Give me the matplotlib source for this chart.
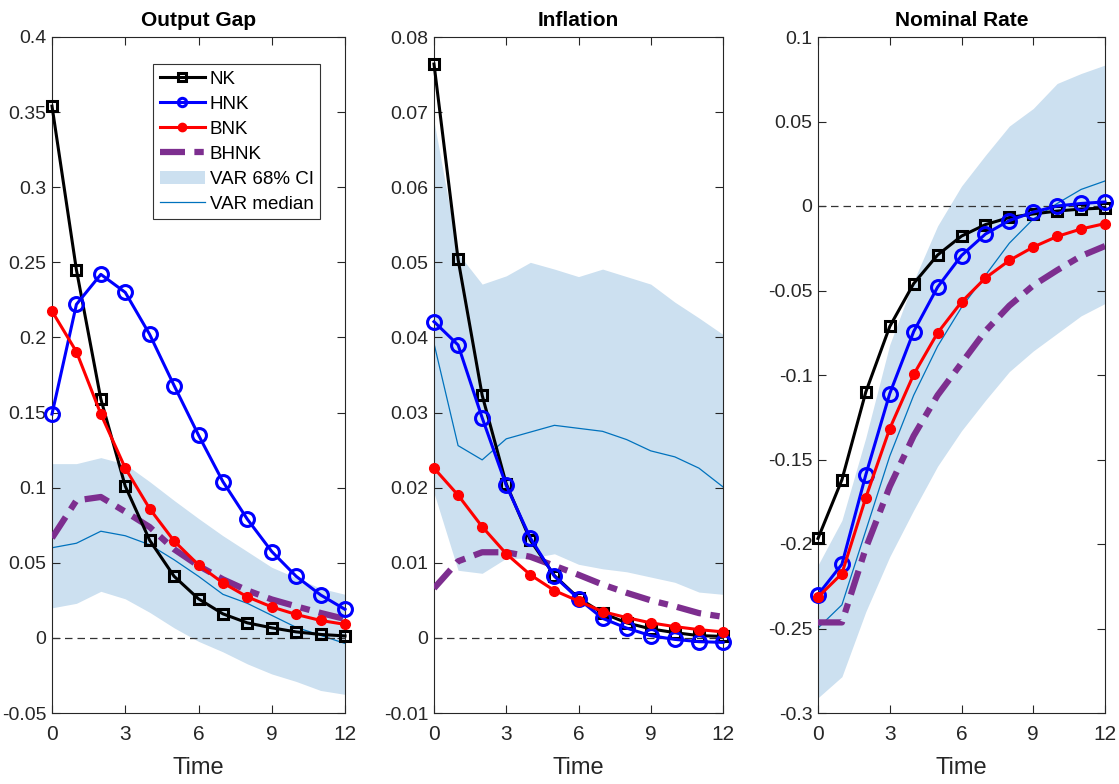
import matplotlib
matplotlib.use("Agg")
import matplotlib.pyplot as plt
import numpy as np

plt.rcParams['font.family'] = ['Liberation Sans', 'DejaVu Sans']

t = list(range(13))

# Output Gap
og_nk = [0.354, 0.245, 0.159, 0.101, 0.065, 0.041, 0.026, 0.016, 0.010, 0.0067, 0.004, 0.0023, 0.0013]
og_hnk = [0.149, 0.222, 0.242, 0.230, 0.202, 0.168, 0.135, 0.104, 0.079, 0.0575, 0.041, 0.0286, 0.019]
og_bnk = [0.2175, 0.1905, 0.149, 0.113, 0.086, 0.0645, 0.0486, 0.0366, 0.0273, 0.0206, 0.0156, 0.0116, 0.009]
og_bhnk = [0.0665, 0.0915, 0.0938, 0.084, 0.0738, 0.059, 0.048, 0.039, 0.0316, 0.0256, 0.021, 0.0166, 0.0126]
og_lo = [0.020, 0.023, 0.031, 0.026, 0.017, 0.0067, -0.0023, -0.0093, -0.0173, -0.024, -0.029, -0.035, -0.0376]
og_hi = [0.116, 0.116, 0.120, 0.1157, 0.104, 0.0915, 0.0795, 0.068, 0.0575, 0.047, 0.040, 0.033, 0.029]
og_med = [0.060, 0.063, 0.071, 0.068, 0.062, 0.052, 0.041, 0.029, 0.023, 0.015, 0.007, 0.0017, -0.0037]

# Inflation
pi_nk = [0.0764, 0.0504, 0.0323, 0.0205, 0.013, 0.0083, 0.0053, 0.0033, 0.002, 0.0012, 0.0007, 0.0003, 0.0002]
pi_hnk = [0.0421, 0.039, 0.0293, 0.0203, 0.0133, 0.0082, 0.0052, 0.0026, 0.0013, 0.0003, -0.0002, -0.0005, -0.0006]
pi_bnk = [0.0226, 0.019, 0.0148, 0.0112, 0.0084, 0.0063, 0.0049, 0.0035, 0.0027, 0.002, 0.0015, 0.0011, 0.0008]
pi_bhnk = [0.0066, 0.0102, 0.0114, 0.0114, 0.0108, 0.0096, 0.0084, 0.0071, 0.006, 0.005, 0.0042, 0.0033, 0.0028]
pi_lo = [0.0193, 0.009, 0.0086, 0.0106, 0.0106, 0.0112, 0.0098, 0.0092, 0.0088, 0.0081, 0.0074, 0.0061, 0.0058]
pi_hi = [0.0688, 0.0512, 0.0471, 0.0482, 0.050, 0.0491, 0.0481, 0.0491, 0.0481, 0.0471, 0.0447, 0.0426, 0.0404]
pi_med = [0.0392, 0.0256, 0.0237, 0.0265, 0.0274, 0.0283, 0.0279, 0.0275, 0.0264, 0.0249, 0.0241, 0.0226, 0.0201]

# Nominal Rate
r_nk = [-0.1967, -0.162, -0.110, -0.0713, -0.0459, -0.029, -0.0178, -0.011, -0.0068, -0.0047, -0.003, -0.0018, -0.0012]
r_hnk = [-0.230, -0.212, -0.159, -0.111, -0.0743, -0.048, -0.0293, -0.0166, -0.0086, -0.0036, 0.0, 0.0015, 0.0024]
r_bnk = [-0.2314, -0.2175, -0.1725, -0.1317, -0.0997, -0.0751, -0.0568, -0.0426, -0.0322, -0.0243, -0.018, -0.0136, -0.0104]
r_bhnk = [-0.2464, -0.2464, -0.2024, -0.166, -0.136, -0.112, -0.093, -0.074, -0.059, -0.047, -0.038, -0.0296, -0.0237]
r_lo = [-0.291, -0.2785, -0.240, -0.2075, -0.180, -0.154, -0.133, -0.115, -0.098, -0.0858, -0.0754, -0.065, -0.0577]
r_hi = [-0.2125, -0.186, -0.137, -0.082, -0.0444, -0.0118, 0.0118, 0.030, 0.0473, 0.0577, 0.0725, 0.0784, 0.0834]
r_med = [-0.2497, -0.236, -0.192, -0.148, -0.112, -0.083, -0.060, -0.041, -0.022, -0.0077, 0.0015, 0.0098, 0.0148]

titles = ["Output Gap", "Inflation", "Nominal Rate"]
xticks = [0, 3, 6, 9, 12]
yticks = [
    [-0.05, 0, 0.05, 0.1, 0.15, 0.2, 0.25, 0.3, 0.35, 0.4],
    [-0.01, 0, 0.01, 0.02, 0.03, 0.04, 0.05, 0.06, 0.07, 0.08],
    [-0.3, -0.25, -0.2, -0.15, -0.1, -0.05, 0, 0.05, 0.1],
]
ylims = [(-0.05, 0.4), (-0.01, 0.08), (-0.3, 0.1)]

panels = [
    (og_nk, og_hnk, og_bnk, og_bhnk, og_lo, og_hi, og_med),
    (pi_nk, pi_hnk, pi_bnk, pi_bhnk, pi_lo, pi_hi, pi_med),
    (r_nk, r_hnk, r_bnk, r_bhnk, r_lo, r_hi, r_med),
]

fig = plt.figure(figsize=(11.19, 7.84), dpi=100)
lefts = [52 / 1119, 434 / 1119, 818 / 1119]
widths = [293 / 1119, 289 / 1119, 287 / 1119]
bottom = 1 - 713 / 784
height = (713 - 37) / 784

band_color = (0.80, 0.88, 0.94)
purple = (0.49, 0.18, 0.56)
med_color = (0.0, 0.447, 0.741)
txt_color = '#262626'

def fmt(v):
    return "%g" % v

for i, (nk, hnk, bnk, bhnk, lo, hi, med) in enumerate(panels):
    ax = fig.add_axes([lefts[i], bottom, widths[i], height])
    ax.fill_between(t, lo, hi, color=band_color, linewidth=0, label="VAR 68% CI", zorder=1)
    ax.plot(t, med, color=med_color, lw=0.9, label="VAR median", zorder=2)
    ax.axhline(0, color='#333333', lw=0.9, ls=(0, (6, 4)), zorder=2)
    ax.plot(t, nk, color='k', lw=2.2, marker='s', ms=7, mfc='none', mew=2.2, label="NK", zorder=5, clip_on=False)
    ax.plot(t, hnk, color='b', lw=2.2, marker='o', ms=10, mfc='none', mew=2.2, label="HNK", zorder=6, clip_on=False)
    ax.plot(t, bnk, color='r', lw=2.2, marker='o', ms=7, mfc='r', mew=1, label="BNK", zorder=7, clip_on=False)
    ax.plot(t, bhnk, color=purple, lw=4.5, ls=(0, (4, 1.5, 1.5, 1.5)), label="BHNK", zorder=4)
    ax.set_xlim(0, 12)
    ax.set_ylim(*ylims[i])
    ax.set_xticks(xticks)
    ax.set_yticks(yticks[i])
    ax.set_yticklabels([fmt(v) for v in yticks[i]])
    ax.tick_params(direction='in', top=True, right=True, length=6, width=0.8,
                   colors=txt_color, labelcolor=txt_color)
    ax.tick_params(axis='x', pad=9, labelsize=15)
    ax.tick_params(axis='y', pad=4, labelsize=14)
    for sp in ax.spines.values():
        sp.set_linewidth(0.8)
        sp.set_color(txt_color)
    ax.set_title(titles[i], fontsize=15, fontweight='bold', pad=8)
    ax.set_xlabel("Time", fontsize=17, labelpad=9, color=txt_color)
    if i == 0:
        handles, labels = ax.get_legend_handles_labels()
        order = ["NK", "HNK", "BNK", "BHNK", "VAR 68% CI", "VAR median"]
        hd = {l: h for h, l in zip(handles, labels)}
        leg = ax.legend([hd[o] for o in order], order, loc='upper right',
                        bbox_to_anchor=(0.915, 0.96), fontsize=13.5, frameon=True,
                        fancybox=False, edgecolor='#333333', framealpha=1,
                        handlelength=2.4, handletextpad=0.25, borderpad=0.35,
                        labelspacing=0.42, borderaxespad=0)
        leg.get_frame().set_linewidth(0.8)
        for lh in leg.get_lines():
            if lh.get_marker() not in (None, 'None', ''):
                lh.set_markersize(6)

fig.savefig("out.png", dpi=100)
